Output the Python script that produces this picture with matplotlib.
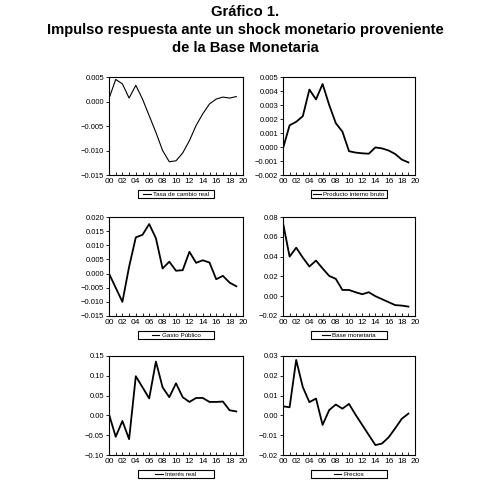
import matplotlib
matplotlib.use("Agg")
import matplotlib.pyplot as plt
from matplotlib.patches import Rectangle
from matplotlib.ticker import MultipleLocator

plt.rcParams['font.family'] = ['Liberation Sans', 'DejaVu Sans']

periods = list(range(20))

tasa_cambio = [0.0006, 0.0045, 0.0036, 0.0007, 0.0033, 0.0005, -0.0029, -0.0063,
               -0.0100, -0.0123, -0.0121, -0.0105, -0.0080, -0.0049, -0.0025,
               -0.0005, 0.0005, 0.0009, 0.0007, 0.0010]
pib = [-0.0001, 0.00155, 0.0018, 0.0022, 0.0041, 0.0034, 0.0045, 0.0030, 0.0017,
       0.0011, -0.0003, -0.0004, -0.00045, -0.00048, -0.00003, -0.0001,
       -0.00025, -0.0005, -0.0009, -0.0011]
gasto = [0.000, -0.005, -0.010, 0.0024, 0.0128, 0.0137, 0.0175, 0.0125, 0.0018,
         0.0042, 0.0010, 0.0012, 0.0077, 0.0038, 0.0047, 0.0039, -0.0020,
         -0.0008, -0.0032, -0.0045]
base = [0.074, 0.040, 0.049, 0.039, 0.030, 0.036, 0.028, 0.0205, 0.0175, 0.0063,
        0.0063, 0.004, 0.002, 0.004, 0.000, -0.003, -0.006, -0.009, -0.0095, -0.0105]
interes = [0.003, -0.054, -0.014, -0.060, 0.099, 0.071, 0.043, 0.136, 0.071, 0.046,
           0.081, 0.046, 0.034, 0.044, 0.044, 0.034, 0.034, 0.035, 0.013, 0.010]
precios = [0.0046, 0.0041, 0.028, 0.0143, 0.0067, 0.0085, -0.0048, 0.0027, 0.0055,
           0.0034, 0.0058, 0.0003, -0.0048, -0.0099, -0.0150, -0.0142, -0.0111,
           -0.0065, -0.0017, 0.0009]

panels = [
    (tasa_cambio, "Tasa de cambio real", [-0.015, -0.010, -0.005, 0.000, 0.005], "{:.3f}", 0.8),
    (pib, "Producto interno bruto", [-0.002, -0.001, 0.000, 0.001, 0.002, 0.003, 0.004, 0.005], "{:.3f}", 1.3),
    (gasto, "Gasto Público", [-0.015, -0.010, -0.005, 0.000, 0.005, 0.010, 0.015, 0.020], "{:.3f}", 1.3),
    (base, "Base monetaria", [-0.02, 0.00, 0.02, 0.04, 0.06, 0.08], "{:.2f}", 1.3),
    (interes, "Interés real", [-0.10, -0.05, 0.00, 0.05, 0.10, 0.15], "{:.2f}", 1.3),
    (precios, "Precios", [-0.02, -0.01, 0.00, 0.01, 0.02, 0.03], "{:.2f}", 1.3),
]

W, H = 491, 487
fig = plt.figure(figsize=(W / 100, H / 100), dpi=100)

cols = [(109, 243), (283, 415)]
rows = [(77, 175), (217, 316), (356, 455)]

title_kw = dict(ha="center", va="center", fontsize=10.6, fontweight="bold")
fig.text(0.5, 1 - 12 / H, "Gráfico 1.", **title_kw)
fig.text(0.5, 1 - 30 / H, "Impulso respuesta ante un shock monetario proveniente", **title_kw)
fig.text(0.5, 1 - 48 / H, "de la Base Monetaria", **title_kw)

for i, (vals, label, yt, fmt, lw) in enumerate(panels):
    r, c = divmod(i, 2)
    x0, x1 = cols[c]
    y0, y1 = rows[r]
    ax = fig.add_axes([x0 / W, 1 - y1 / H, (x1 - x0) / W, (y1 - y0) / H])
    ax.plot(periods, vals, color="black", lw=lw)
    ax.set_xlim(0, 20)
    ax.set_ylim(yt[0], yt[-1])
    ax.set_xticks(range(0, 21, 2))
    ax.set_xticklabels([f"{v:02d}" for v in range(0, 21, 2)])
    ax.xaxis.set_minor_locator(MultipleLocator(1))
    ax.set_yticks(yt)
    ax.set_yticklabels([fmt.format(v).replace("-", "\u2212") for v in yt])
    ax.tick_params(axis="x", which="both", direction="in", length=2, width=0.6,
                   labelsize=6, pad=2)
    ax.tick_params(axis="y", which="both", direction="out", length=2, width=0.6,
                   labelsize=5.5, pad=1.5)
    for s in ax.spines.values():
        s.set_linewidth(0.8)
    # legend box
    bw = 76 / (x1 - x0)
    rect = Rectangle((0.5 - bw / 2, -0.235), bw, 0.085, transform=ax.transAxes,
                     fill=False, edgecolor="black", lw=0.8, clip_on=False)
    ax.add_patch(rect)
    leg = ax.legend([label], loc="center", bbox_to_anchor=(0.5, -0.198),
                    frameon=False, fontsize=4.5, handlelength=1.2,
                    handletextpad=0.4, borderpad=0, borderaxespad=0)
    for h in leg.get_lines():
        h.set_linewidth(0.8)

fig.savefig("out.png", dpi=100)
